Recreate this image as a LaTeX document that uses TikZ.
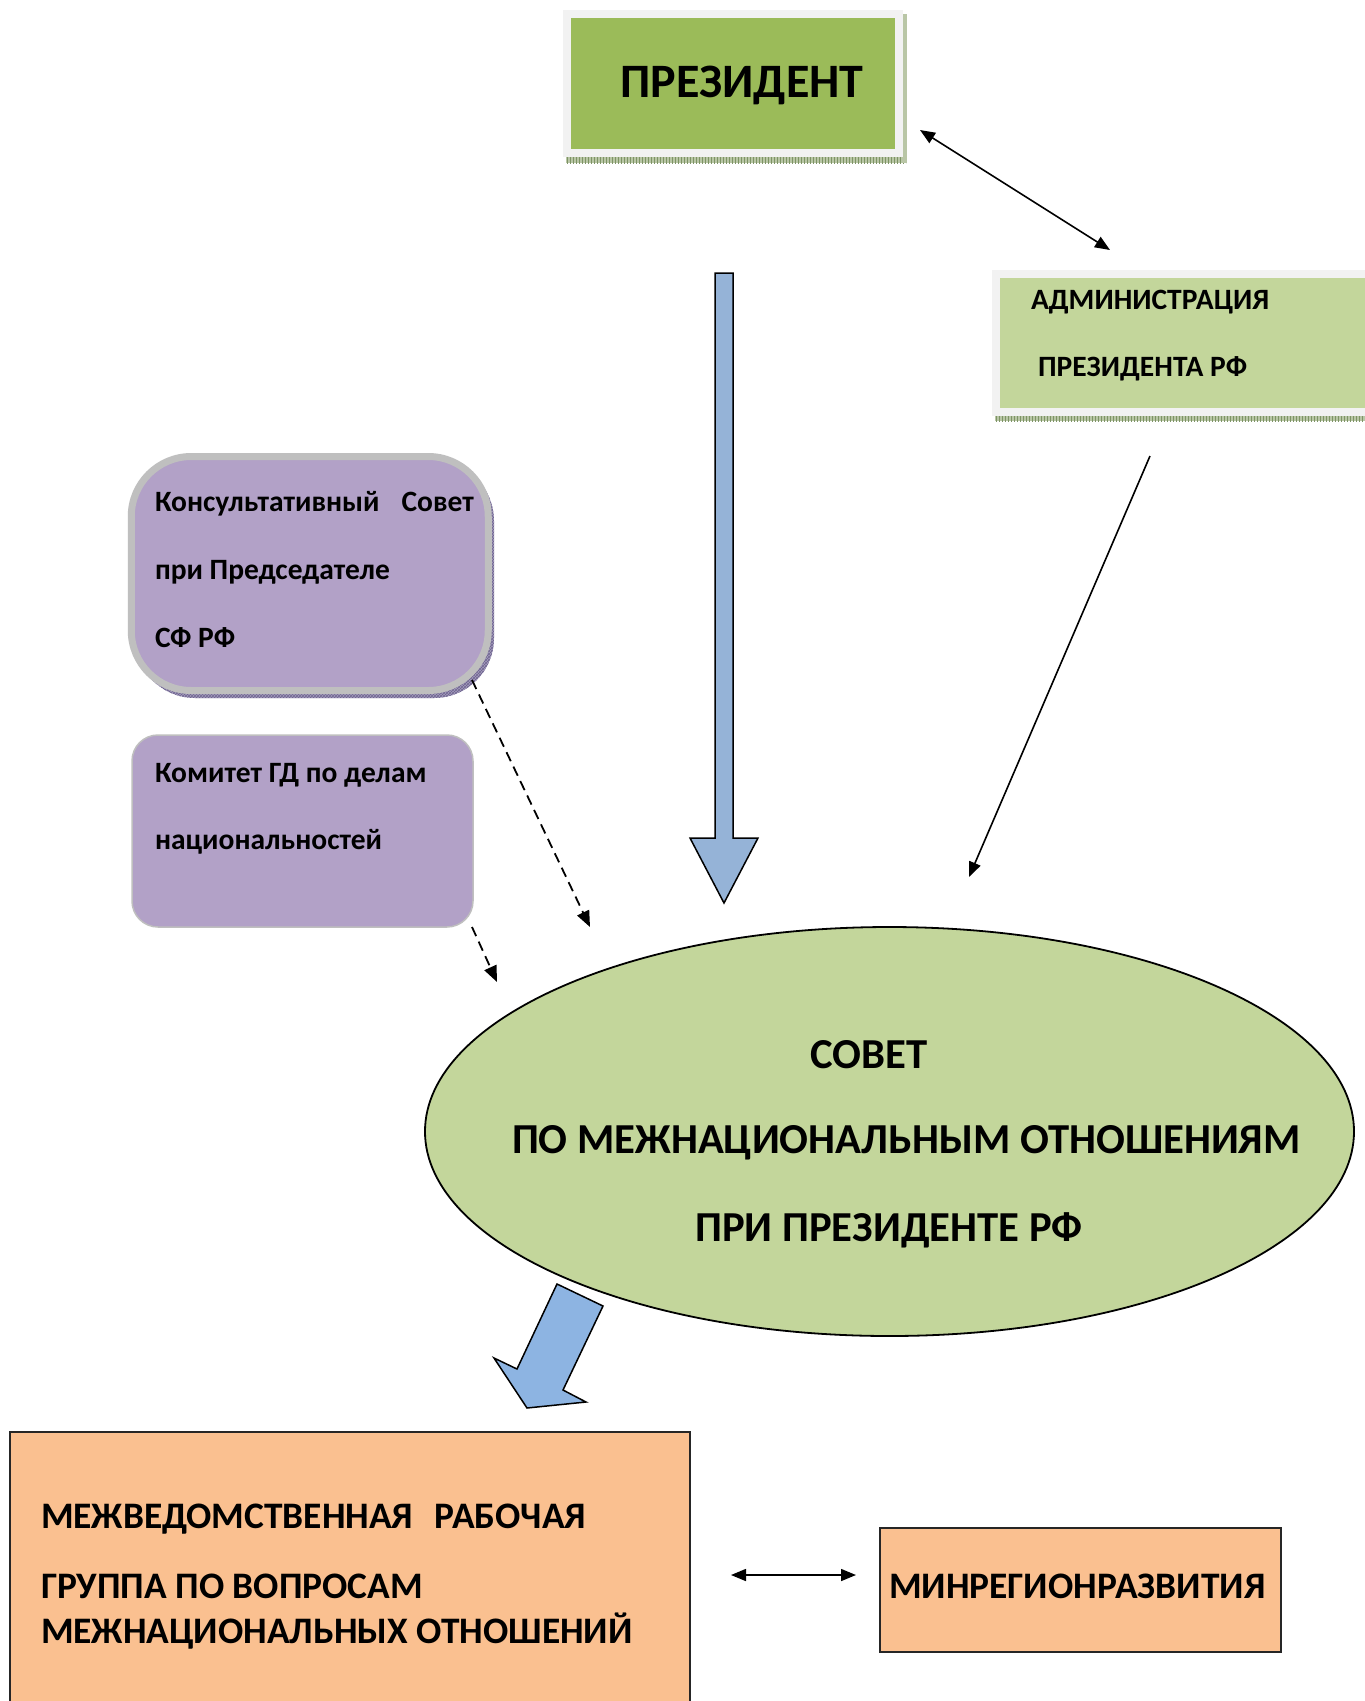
\documentclass[tikz,border=0pt]{standalone}
\usepackage{fontspec}
\setmainfont{Carlito}
\usetikzlibrary{shapes.geometric,arrows.meta,patterns}
\definecolor{presgreen}{HTML}{9BBB59}
\definecolor{lightgreen}{HTML}{C3D69B}
\definecolor{framegray}{HTML}{F2F2F2}
\definecolor{purp}{HTML}{B2A1C7}
\definecolor{purpframe}{HTML}{BFBFBF}
\definecolor{blueA}{HTML}{95B3D7}
\definecolor{blueB}{HTML}{8DB4E2}
\definecolor{orng}{HTML}{FAC090}
\definecolor{hatchg}{HTML}{B9C6A6}
\definecolor{hatchline}{HTML}{7E9466}
\definecolor{hatchp}{HTML}{A59CBD}
\definecolor{hatchpl}{HTML}{6F6590}
\tikzset{
  txt/.style={inner sep=0pt, outer sep=0pt, anchor=base west, font=\bfseries},
  ctxt/.style={inner sep=0pt, outer sep=0pt, anchor=base, font=\bfseries},
  boxnode/.style={inner sep=0pt, outer sep=0pt, anchor=center, rectangle},
  conn/.style={line width=1.6pt, -{Triangle[length=15pt,width=12pt]}},
  dconn/.style={line width=1.8pt, -{Triangle[length=16pt,width=13pt]}, dash pattern=on 10pt off 6pt},
  bidir/.style={line width=1.6pt, {Triangle[length=15pt,width=12pt]}-{Triangle[length=15pt,width=12pt]}},
  bigarrow/.style={line width=1.5pt, draw=black, line join=miter},
  fpres/.style={font=\bfseries\fontsize{48}{58}\selectfont},
  fadm/.style={font=\bfseries\fontsize{29.5}{35}\selectfont},
  fpurp/.style={font=\bfseries\fontsize{29.5}{35}\selectfont},
  fell/.style={font=\bfseries\fontsize{42.7}{50}\selectfont},
  forg/.style={font=\bfseries\fontsize{37.4}{45}\selectfont}
}
\begin{document}
\begin{tikzpicture}[x=1pt,y=-1pt]
\useasboundingbox (0,0) rectangle (1365,1701);
\clip (0,0) rectangle (1365,1701);
\fill[white] (0,0) rectangle (1365,1701);

% ---------- President ----------
\fill[hatchg] (566,156) rectangle (906,163);
\fill[pattern=vertical lines, pattern color=hatchline] (566,157) rectangle (906,163);
\fill[hatchg] (902,14) rectangle (907,163);
\node[boxnode, fill=presgreen, draw=framegray, line width=8pt,
      minimum width=332pt, minimum height=139pt] (pres) at (733,83.5) {};
\node[ctxt, fpres] (presT) at (742,97) {ПРЕЗИДЕНТ};

% ---------- Administration ----------
\fill[hatchg] (995,414) rectangle (1380,421);
\fill[pattern=vertical lines, pattern color=hatchline] (995,415) rectangle (1380,421);
\node[boxnode, fill=lightgreen, draw=framegray, line width=8pt,
      minimum width=384pt, minimum height=137.5pt] (admin) at (1188,342.75) {};
\node[txt, fadm] (adminT1) at (1031,309) {АДМИНИСТРАЦИЯ};
\node[txt, fadm] (adminT2) at (1038,376) {ПРЕЗИДЕНТА РФ};

% ---------- Consultative council ----------
\fill[hatchp, rounded corners=60pt] (135,461) rectangle (494,698);
\fill[pattern=crosshatch, pattern color=hatchpl, rounded corners=60pt] (135,461) rectangle (494,698);
\node[boxnode, fill=purp, draw=purpframe, line width=7pt, rounded corners=60pt,
      minimum width=357pt, minimum height=234pt] (consult) at (309.75,573.5) {};
\node[txt, fpurp] (consultT1) at (155,511) {Консультативный\hspace{22pt}Совет};
\node[txt, fpurp] (consultT2) at (155,579) {при Председателе};
\node[txt, fpurp] (consultT3) at (155,647) {СФ РФ};

% ---------- Duma committee ----------
\node[boxnode, fill=purp, draw=purpframe, line width=1.5pt, rounded corners=26pt,
      minimum width=341pt, minimum height=192pt] (committee) at (302.5,831) {};
\node[txt, fpurp] (committeeT1) at (155,782) {Комитет ГД по делам};
\node[txt, fpurp] (committeeT2) at (155,849) {национальностей};

% ---------- Council (ellipse) ----------
\node[ellipse, fill=lightgreen, draw=black, line width=1.8pt, inner sep=0pt, outer sep=0pt,
      minimum width=929pt, minimum height=409pt] (council) at (889.5,1131.5) {};
\node[ctxt, fell] (councilT1) at (869,1068) {СОВЕТ};
\node[txt, fell] (councilT2) at (512,1153) {ПО МЕЖНАЦИОНАЛЬНЫМ ОТНОШЕНИЯМ};
\node[ctxt, fell] (councilT3) at (889,1241) {ПРИ ПРЕЗИДЕНТЕ РФ};

% ---------- Working group ----------
\node[boxnode, fill=orng, draw=black!85, line width=2pt, anchor=north west,
      minimum width=680pt, minimum height=300pt] (mwg) at (10,1432) {};
\node[txt, forg] (mwgT1) at (41,1528) {МЕЖВЕДОМСТВЕННАЯ\hspace{21pt}РАБОЧАЯ};
\node[txt, forg] (mwgT2) at (41,1598) {ГРУППА ПО ВОПРОСАМ};
\node[txt, forg] (mwgT3) at (41,1643) {МЕЖНАЦИОНАЛЬНЫХ ОТНОШЕНИЙ};

% ---------- Minregion ----------
\node[boxnode, fill=orng, draw=black!85, line width=2pt, anchor=north west,
      minimum width=401pt, minimum height=124pt] (minreg) at (880,1528) {};
\node[txt, forg] (minregT) at (889,1598) {МИНРЕГИОНРАЗВИТИЯ};

% ---------- Big block arrows ----------
\draw[bigarrow, fill=blueA] (715,273) -- (733,273) -- (733,838) -- (758,838) -- (724,903)
      -- (690,838) -- (715,838) -- cycle;
\draw[bigarrow, fill=blueB] (557,1284) -- (603,1306) -- (563,1390) -- (586,1402) -- (527,1408)
      -- (494,1358) -- (517,1369) -- cycle;

% ---------- Connector end points ----------
\coordinate (pa1) at (920,130);
\coordinate (pa2) at (1110,250);
\coordinate (ac1) at (1150,456);
\coordinate (ac2) at (969,877);
\coordinate (cc1) at (472,680);
\coordinate (cc2) at (590,927);
\coordinate (kc1) at (472,927);
\coordinate (kc2) at (497,982);
\coordinate (mm1) at (731,1575);
\coordinate (mm2) at (856,1575);

\draw[bidir] (pa1) -- (pa2);
\draw[conn] (ac1) -- (ac2);
\draw[dconn] (cc1) -- (cc2);
\draw[dconn] (kc1) -- (kc2);
\draw[bidir] (mm1) -- (mm2);
\end{tikzpicture}
\end{document}
